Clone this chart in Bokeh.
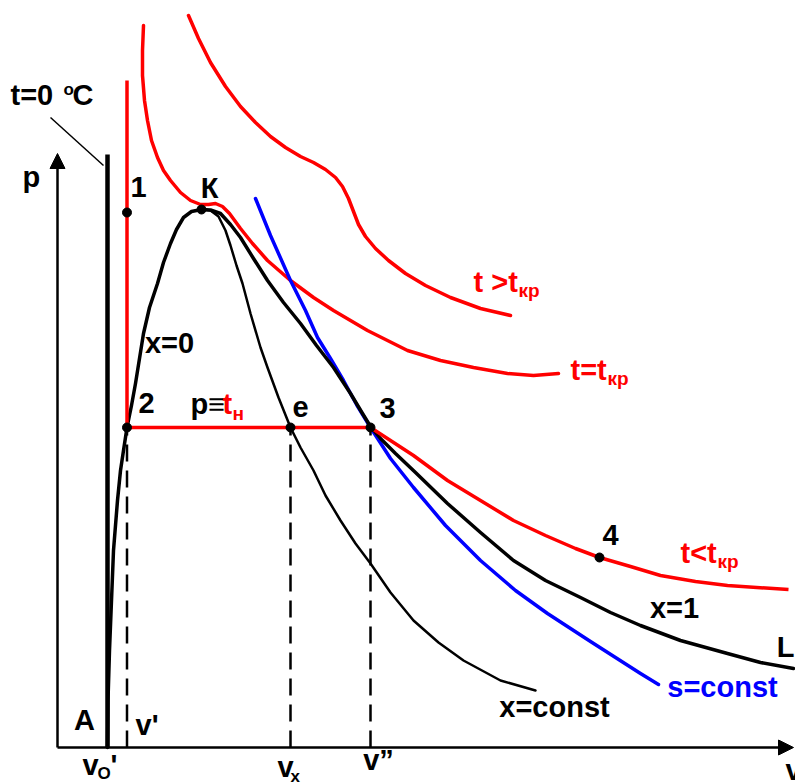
from bokeh.plotting import figure
from bokeh.models import Range1d, Arrow, NormalHead
from bokeh.core.properties import value
from bokeh.embed import file_html
from bokeh.resources import INLINE

# ---- data (drawing units: v to the right, p upward, origin at the axes corner) ----
# boundary curve x = 0 (saturated liquid), from A up to critical point K
x0_v = [50, 50.5, 52, 54, 56, 60, 63, 66, 69.5, 74, 78, 82, 86, 92, 100, 106, 113, 119, 126, 134, 144]
x0_p = [0, 47, 97, 147, 197, 247, 277, 297, 320, 342, 364, 389, 414, 440, 464, 485, 504, 518, 530, 536, 538]

# boundary curve x = 1 (dry saturated vapour), from K to L
x1_v = [144, 153, 163, 173, 183, 196, 210, 226, 243, 259, 276, 293, 305, 313, 323, 338, 358, 390, 423, 456, 488, 523, 553, 583, 623, 670, 703, 736]
x1_p = [538, 537.5, 534, 523, 510, 489, 467, 445, 424, 402, 380, 354, 334, 321, 309, 294, 275, 244, 215, 187, 167, 150, 135, 122, 107, 94, 85, 79]

# line of constant dryness x = const
xc_v = [144, 153, 161, 168, 173, 179, 185, 193, 203, 210, 221, 233, 243, 256, 268, 283, 298, 313, 333, 356, 381, 406, 443, 478]
xc_p = [538, 537, 531, 517, 502, 482, 464, 434, 400, 380, 350, 320, 300, 277, 252, 227, 204, 184, 155, 127, 105, 87, 67, 57]

# isotherm t < t_kr (through 1, 2, e, 3, 4)
iso_lo_v = [69.5, 69.5, 313, 333, 356, 390, 423, 456, 488, 518, 542, 573, 603, 638, 670, 731]
iso_lo_p = [667, 320, 320, 307, 292, 267, 247, 227, 212, 199, 190, 181, 172, 166, 162, 158]

# critical isotherm t = t_kr
crit_v = [86, 85, 85, 87, 90, 94, 100, 106, 113, 123, 133, 143, 151, 158, 165, 172, 183, 195, 210, 233, 256, 276, 310, 350, 383, 416, 450, 476, 501]
crit_p = [722, 697, 672, 647, 627, 607, 590, 577, 567, 555, 547, 543, 543, 544, 541, 534, 519, 504, 487, 467, 450, 437, 417, 397, 387, 380, 374, 372, 374]

# supercritical isotherm t > t_kr
sup_v = [131, 141, 153, 168, 183, 198, 213, 228, 243, 256, 268, 278, 285, 291, 296, 301, 308, 318, 331, 348, 368, 393, 423, 453]
sup_p = [732, 709, 685, 661, 641, 625, 611, 600, 591, 585, 578, 570, 561, 549, 536, 523, 511, 499, 487, 474, 462, 450, 439, 432]

# adiabat s = const
s_v = [198, 213, 233, 248, 260, 273, 286, 299, 313, 333, 356, 388, 423, 458, 490, 533, 583, 601]
s_p = [549, 512, 467, 437, 410, 389, 367, 343, 320, 289, 260, 222, 187, 157, 134, 106, 74, 63]

# isotherm t = 0 °C
t0_v = [50, 50]
t0_p = [0, 593]

# marked states: 1, K, 2, e, 3, 4
pt_name = ["1", "К", "2", "e", "3", "4"]
pt_v = [69.5, 144, 69.5, 233, 313, 542]
pt_p = [535, 538, 320, 320, 320, 190]

# volumes v', v_x, v'' (dashed projections) and saturation pressure
vol_v = [69.5, 233, 313]
p_sat = 320

V_MAX = 736
P_MAX = 594

FONT = "Liberation Sans"
RED = "#ff0000"
BLUE = "#0000ff"

p = figure(width=795, height=782, x_range=Range1d(-57, 738), y_range=Range1d(-35, 747),
           output_backend="svg", toolbar_location=None, min_border=0,
           x_axis_location=None, y_axis_location=None)
p.grid.visible = False
p.outline_line_color = None
p.background_fill_color = "white"

# axes as arrows
p.add_layout(Arrow(end=NormalHead(size=15, fill_color="black", line_color="black", line_width=1),
                   x_start=0, y_start=0, x_end=0, y_end=P_MAX, line_width=2.5, line_color="black"))
p.add_layout(Arrow(end=NormalHead(size=15, fill_color="black", line_color="black", line_width=1),
                   x_start=0, y_start=0, x_end=V_MAX, y_end=0, line_width=2.5, line_color="black"))

# dashed projections
for vv in vol_v:
    p.line([vv, vv], [0, p_sat], line_color="black", line_width=2.5, line_dash="17 9")

# t = 0 °C line and its leader
p.line(t0_v, t0_p, line_color="black", line_width=4.5)
p.line([-7, 46], [630, 582], line_color="black", line_width=1.5)

# curves
kw = dict(line_join="round", line_cap="round")
p.line(sup_v, sup_p, line_color=RED, line_width=3.5, **kw)
p.line(crit_v, crit_p, line_color=RED, line_width=3.5, **kw)
p.line(s_v, s_p, line_color=BLUE, line_width=3.5, **kw)
p.line(xc_v, xc_p, line_color="black", line_width=2.5, **kw)
p.line(x1_v, x1_p, line_color="black", line_width=3.5, **kw)
p.line(x0_v, x0_p, line_color="black", line_width=3.5, **kw)
p.line(iso_lo_v, iso_lo_p, line_color=RED, line_width=3.5, line_join="round")

p.scatter(pt_v, pt_p, size=9, color="black")


def lab(x, y, text, color="black", size=29, align="center"):
    # y is the text baseline; anchor the text at the middle of its em box
    p.text(x=[x], y=[y + 0.35 * size], text=[text], text_color=color, text_font=value(FONT),
           text_font_style="bold", text_font_size=f"{size}px",
           text_align=align, text_baseline="middle")


# point labels
lab(81, 550, pt_name[0])
lab(152, 549, pt_name[1])
lab(89, 334, pt_name[2])
lab(243, 330, pt_name[3])
lab(330, 329, pt_name[4])
lab(553, 202, pt_name[5])

# curve labels
lab(112, 394, "x=0")
lab(617, 129, "x=1")
lab(728, 90, "L")
lab(497, 30, "x=const")
lab(665, 50, "s=const", color=BLUE)
lab(27, 17, "A")

lab(133, 333, "p≡", align="left")
lab(165, 333, "t", color=RED, align="left")
lab(175, 327, "н", color=RED, size=19, align="left")

lab(416, 455, "t >t", color=RED, align="left")
lab(461, 450, "кр", color=RED, size=19, align="left")
lab(513, 367, "t=t", color=RED, align="left")
lab(550, 362, "кр", color=RED, size=19, align="left")
lab(623, 184, "t<t", color=RED, align="left")
lab(660, 179, "кр", color=RED, size=19, align="left")

# t = 0 °C
lab(-47, 642, "t=0", align="left")
lab(6, 652, "o", size=17, align="left")
lab(15, 642, "C", align="left")

# axis labels
lab(-35, 560, "p", align="left")
lab(728, -33, "v", align="left")
lab(78, 12, "v'", align="left")
lab(25, -28, "v", align="left")
lab(40, -32, "O", size=17, align="left")
lab(53, -28, "'", align="left")
lab(220, -30, "v", align="left")
lab(233, -34.5, "x", size=17, align="left")
lab(321, -23, "v”")

open("out.html", "w").write(file_html(p, INLINE))
